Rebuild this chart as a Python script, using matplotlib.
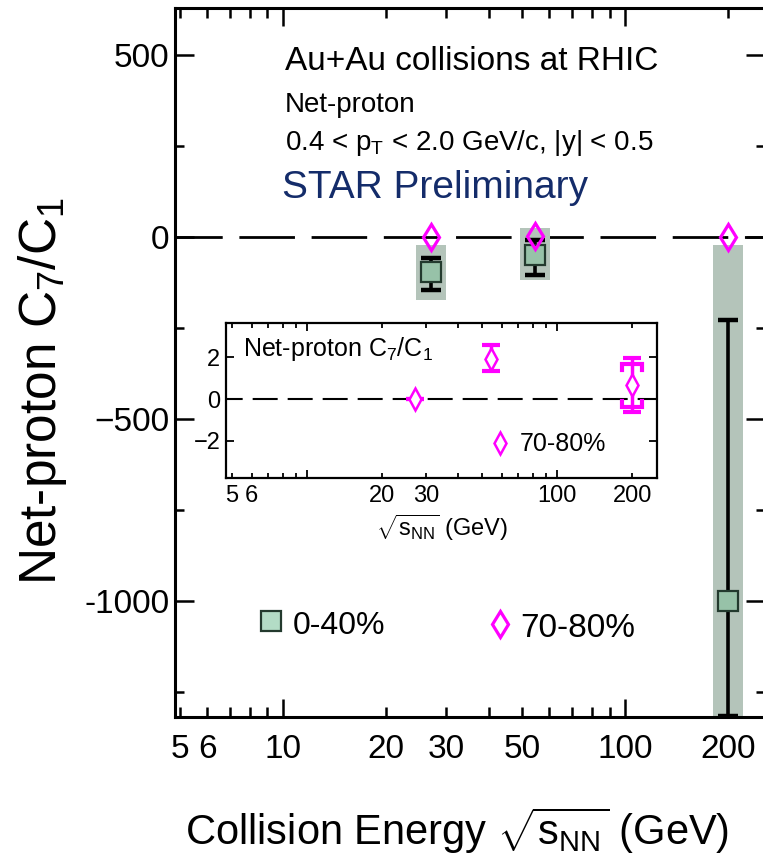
import matplotlib
matplotlib.use('Agg')
import matplotlib.pyplot as plt
from matplotlib.patches import Rectangle
from matplotlib.ticker import FixedLocator, FixedFormatter, FuncFormatter

plt.rcParams['font.family'] = ['Liberation Sans', 'DejaVu Sans']
plt.rcParams['mathtext.fontset'] = 'custom'
plt.rcParams['mathtext.rm'] = 'Liberation Sans'
plt.rcParams['mathtext.it'] = 'Liberation Sans'
plt.rcParams['mathtext.bf'] = 'Liberation Sans:bold'

# 0-40% central
energy_central = [27, 54.4, 200]
c71_central = [-96, -49, -1000]
stat_lo_central = [-146, -104, -1318]
stat_hi_central = [-58, -8, -228]
sys_lo_central = [-173, -118, -1330]
sys_hi_central = [-22, 25, -22]

# 70-80% peripheral
energy_periph = [27, 54.4, 200]
c71_periph = [0.0, 1.95, 0.67]
stat_lo_periph = [0.0, 1.35, -0.6]
stat_hi_periph = [0.0, 2.6, 1.97]
sys_lo_periph = [0.0, 1.95, -0.38]
sys_hi_periph = [0.0, 1.95, 1.68]

main_yticks = [500, 0, -500, -1000]
main_yticklabels = ['500', '0', '\u2212500', '-1000']
main_xlabeled = [5, 6, 10, 20, 30, 50, 100, 200]
inset_xlabeled = [5, 6, 20, 30, 100, 200]

BOX = '#b4c4ba'
SQ = '#97c2a8'
SQ_EDGE = '#233a2e'
MAG = '#ff00ff'
NAVY = '#142c6a'

W, H = 763, 866
fig = plt.figure(figsize=(W / 100, H / 100), dpi=100)


def px_axes(x0, y0, x1, y1):
    # pixel box (left, top, right, bottom) -> figure fraction
    return [x0 / W, 1 - y1 / H, (x1 - x0) / W, (y1 - y0) / H]


ax = fig.add_axes(px_axes(175, 8, 765, 717))
ax.set_xscale('log')
ax.set_xlim(4.83, 256)
ax.set_ylim(-1320, 629)

minor_x = [5, 6, 7, 8, 9, 20, 30, 40, 50, 60, 70, 80, 90, 200]


def make_fmt(labeled):
    def f(v, pos):
        for l in labeled:
            if abs(v - l) / l < 1e-6:
                return '%d' % l
        return ''
    return FuncFormatter(f)


ax.xaxis.set_major_locator(FixedLocator([10, 100]))
ax.xaxis.set_minor_locator(FixedLocator(minor_x))
ax.xaxis.set_major_formatter(make_fmt(main_xlabeled))
ax.xaxis.set_minor_formatter(make_fmt(main_xlabeled))
ax.yaxis.set_major_locator(FixedLocator(main_yticks))
ax.yaxis.set_major_formatter(FixedFormatter(main_yticklabels))
ax.yaxis.set_minor_locator(FixedLocator([250, -250, -750, -1250]))

ax.tick_params(axis='both', which='both', direction='in', top=True, right=True,
               width=1.8, labelsize=24)
ax.tick_params(axis='x', which='major', length=13, pad=12)
ax.tick_params(axis='x', which='minor', length=7, pad=12)
ax.tick_params(axis='y', which='major', length=13.5, pad=4)
ax.tick_params(axis='y', which='minor', length=6.5)
for s in ax.spines.values():
    s.set_linewidth(2.2)

ax.axhline(0, color='black', lw=2, ls=(3, (20, 6)), zorder=1)

# systematic boxes
f = 1.106
for e, lo, hi in zip(energy_central, sys_lo_central, sys_hi_central):
    ax.add_patch(Rectangle((e / f, lo), e * f - e / f, hi - lo, facecolor=BOX,
                           edgecolor='none', zorder=2))

yerr_c = [[v - lo for v, lo in zip(c71_central, stat_lo_central)],
          [hi - v for v, hi in zip(c71_central, stat_hi_central)]]
ax.errorbar(energy_central, c71_central, yerr=yerr_c, fmt='none', ecolor='black',
            elinewidth=2.6, capsize=7, capthick=3.2, zorder=3)
ax.plot(energy_central, c71_central, 's', ms=15, mfc=SQ, mec=SQ_EDGE, mew=1.6, zorder=4)
ax.plot(energy_periph, c71_periph, 'd', ms=13.5, mfc='none', mec=MAG, mew=2.3, zorder=5)

# legend (drawn by hand like the original)
ax.plot([0.162], [0.135], 's', ms=15, mfc='#b3dcc6', mec=SQ_EDGE, mew=1.6,
        transform=ax.transAxes, clip_on=False)
ax.text(0.200, 0.117, '0-40%', fontsize=23, transform=ax.transAxes, va='baseline')
ax.plot([0.551], [0.131], 'd', ms=13.5, mfc='none', mec=MAG, mew=2.3,
        transform=ax.transAxes)
ax.text(0.585, 0.113, '70-80%', fontsize=24, transform=ax.transAxes, va='baseline')

ax.text(0.186, 0.9125, 'Au+Au collisions at RHIC', fontsize=24,
        transform=ax.transAxes, va='baseline')
ax.text(0.186, 0.853, 'Net-proton', fontsize=20, transform=ax.transAxes, va='baseline')
ax.text(0.186, 0.800, r'0.4 < p$_{\rm T}$ < 2.0 GeV/c, |y| < 0.5', fontsize=20,
        transform=ax.transAxes, va='baseline')
ax.text(0.181, 0.732, 'STAR Preliminary', fontsize=28, color=NAVY,
        transform=ax.transAxes, va='baseline')

ax.set_ylabel(r'Net-proton C$_7$/C$_1$', fontsize=37)
ax.yaxis.set_label_coords(-0.18, 0.46)
ax.set_xlabel(r'Collision Energy $\sqrt{\rm s_{NN}}$ (GeV)', fontsize=30)
ax.xaxis.set_label_coords(0.478, -0.125)

# inset
ax_in = fig.add_axes(px_axes(226, 323, 657, 478))
ax_in.set_zorder(10)
ax_in.set_facecolor('white')
ax_in.set_xscale('log')
ax_in.set_xlim(4.74, 251)
ax_in.set_ylim(-3.8, 3.66)
ax_in.xaxis.set_major_locator(FixedLocator([10, 100]))
ax_in.xaxis.set_minor_locator(FixedLocator(minor_x))
ax_in.xaxis.set_major_formatter(make_fmt(inset_xlabeled))
ax_in.xaxis.set_minor_formatter(make_fmt(inset_xlabeled))
ax_in.yaxis.set_major_locator(FixedLocator([-2, 0, 2]))
ax_in.yaxis.set_minor_locator(FixedLocator([]))
ax_in.tick_params(axis='both', which='both', direction='in', top=True, right=True,
                  width=1.3, labelsize=17)
ax_in.tick_params(axis='x', which='major', length=6, pad=5)
ax_in.tick_params(axis='x', which='minor', length=3.5, pad=5)
ax_in.tick_params(axis='y', which='major', length=5.5, pad=4)
for s in ax_in.spines.values():
    s.set_linewidth(1.6)

ax_in.axhline(0, color='black', lw=1.5, ls=(4, (12, 4.8)), zorder=1)

fi = 1.096
for e, v, lo, hi in zip(energy_periph, c71_periph, sys_lo_periph, sys_hi_periph):
    if hi - lo > 0.05:
        leg = 0.3
        ax_in.plot([e / fi, e / fi, e * fi, e * fi], [hi - leg, hi, hi, hi - leg],
                   color=MAG, lw=3, solid_joinstyle='miter', zorder=3)
        ax_in.plot([e / fi, e / fi, e * fi, e * fi], [lo + leg, lo, lo, lo + leg],
                   color=MAG, lw=3, solid_joinstyle='miter', zorder=3)

yerr_p = [[v - lo for v, lo in zip(c71_periph, stat_lo_periph)],
          [hi - v for v, hi in zip(c71_periph, stat_hi_periph)]]
ax_in.errorbar(energy_periph, c71_periph, yerr=yerr_p, fmt='none', ecolor=MAG,
               elinewidth=2.5, capsize=6.5, capthick=3, zorder=3)
ax_in.plot(energy_periph, c71_periph, 'd', ms=11, mfc='white', mec=MAG, mew=1.8, zorder=4)

ax_in.text(0.039, 0.79, r'Net-proton C$_7$/C$_1$', fontsize=18,
           transform=ax_in.transAxes, va='baseline')
ax_in.plot([0.636], [0.226], 'd', ms=11, mfc='none', mec=MAG, mew=1.8,
           transform=ax_in.transAxes)
ax_in.text(0.682, 0.174, '70-80%', fontsize=18, transform=ax_in.transAxes, va='baseline')
ax_in.set_xlabel(r'$\sqrt{\rm s_{NN}}$ (GeV)', fontsize=17, labelpad=3)
ax_in.xaxis.set_label_coords(0.5, -0.22)

fig.savefig('out.png', dpi=100)
